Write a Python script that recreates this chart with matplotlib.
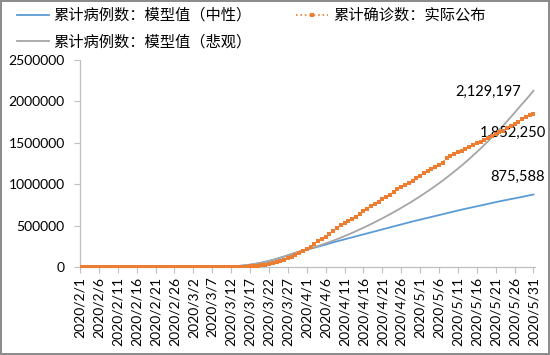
import matplotlib
matplotlib.use("Agg")
import matplotlib.pyplot as plt
import numpy as np
import datetime as dt

plt.rcParams['font.family'] = ['Lato', 'Noto Sans CJK SC', 'DejaVu Sans']

# ---------------- data ----------------
start = dt.date(2020, 2, 1)
dates = [start + dt.timedelta(days=i) for i in range(121)]
date_labels = [f"{d.year}/{d.month}/{d.day}" for d in dates]

actual = [
    8, 8, 11, 11, 12, 12, 12, 12, 12, 12,
    13, 13, 14, 15, 15, 15, 15, 15, 15, 15,
    35, 35, 35, 53, 53, 59, 60, 62, 70, 76,
    101, 122, 153, 221, 319, 435, 541, 704, 994, 1301,
    1697, 2247, 2943, 3680, 4663, 6411, 9197, 13779, 19367, 24192,
    33592, 43781, 54856, 68211, 85435, 104126, 124683, 143432, 164653, 189600,
    216722, 245540, 278458, 312245, 337072, 368196, 398809, 432132, 466299, 501560,
    530000, 557571, 582594, 609516, 639664, 671331, 702164, 735086, 759786, 787960,
    825041, 842624, 869170, 905358, 938154, 965785, 988197, 1012582, 1039909, 1069424,
    1103461, 1132539, 1158040, 1180375, 1204351, 1228603, 1257023, 1320000, 1345000, 1366000,
    1385000, 1405000, 1425000, 1447000, 1470000, 1492000, 1513000, 1535000, 1556000, 1578000,
    1601000, 1625000, 1648000, 1675000, 1701000, 1728000, 1755000, 1782000, 1808000, 1830000,
    1852250,
]

model_neutral = [
    0, 0, 0, 0, 0, 0, 0, 0, 0, 0,
    10, 10, 20, 20, 30, 30, 40, 50, 60, 70,
    90, 110, 130, 160, 190, 230, 280, 340, 410, 500,
    600, 700, 800, 900, 1000, 1500, 2000, 3000, 4000, 5500,
    7500, 10000, 13000, 17000, 22000, 28000, 35000, 43000, 52000, 62000,
    73000, 85000, 98000, 112000, 126000, 141000, 156000, 171000, 185000, 197000,
    209000, 221000, 233000, 245000, 258000, 271000, 284000, 297000, 310000, 322000,
    334000, 346000, 358000, 370000, 382000, 394000, 406000, 418000, 430000, 442000,
    454000, 466000, 478000, 490000, 502000, 514000, 526000, 538000, 550000, 561000,
    572000, 583000, 594000, 605000, 616000, 627000, 638000, 649000, 660000, 671000,
    682000, 693000, 703000, 713000, 723000, 733000, 743000, 753000, 763000, 773000,
    783000, 793000, 802000, 811000, 820000, 829000, 838000, 847000, 857000, 866000,
    875588,
]

model_pessimistic = [
    0, 0, 0, 0, 0, 0, 0, 0, 0, 0,
    10, 10, 20, 20, 30, 30, 40, 50, 60, 70,
    90, 110, 130, 160, 190, 230, 280, 340, 410, 500,
    600, 700, 800, 900, 1000, 1500, 2000, 3000, 4000, 5500,
    7500, 10000, 13000, 17000, 22000, 28000, 35000, 43000, 52000, 62000,
    73000, 85000, 98000, 112000, 126000, 141000, 156000, 171000, 186000, 199000,
    212000, 225000, 239000, 254000, 269000, 285000, 301000, 318000, 336000, 354000,
    373000, 392000, 412000, 432000, 453000, 474000, 496000, 518000, 541000, 564000,
    588000, 612000, 637000, 662000, 688000, 714000, 741000, 768000, 796000, 825000,
    854000, 884000, 915000, 946000, 978000, 1011000, 1045000, 1080000, 1115000, 1151000,
    1188000, 1226000, 1265000, 1305000, 1346000, 1388000, 1431000, 1475000, 1520000, 1566000,
    1613000, 1661000, 1710000, 1760000, 1811000, 1863000, 1916000, 1970000, 2020000, 2073000,
    2129197,
]

labels = ["累计病例数：模型值（中性）", "累计病例数：模型值（悲观）", "累计确诊数：实际公布"]
yticks = [0, 500000, 1000000, 1500000, 2000000, 2500000]

# ---------------- plot ----------------
W, H = 550, 355
fig = plt.figure(figsize=(W / 100, H / 100), dpi=100)
fig.patch.set_facecolor('white')
fig.patch.set_edgecolor('#8c8c8c')
fig.patch.set_linewidth(1.5)

ax = fig.add_axes([80 / W, 1 - 267 / H, (535 - 80) / W, (267 - 60) / H])
x = np.arange(len(dates))

l1, = ax.plot(x, model_neutral, color='#5B9BD5', lw=1.3, zorder=3)
l2, = ax.plot(x, model_pessimistic, color='#A5A5A5', lw=1.3, zorder=3)
l3, = ax.plot(x, actual, color='#ED7D31', lw=1.2, ls=':', marker='s', markersize=3.0,
              markeredgewidth=0, zorder=4)

ax.set_xlim(0, 120.4)
ax.set_ylim(0, 2500000)
ax.set_yticks(yticks)
ax.set_yticklabels([str(v) for v in yticks])
ax.set_xticks(x[::5])
ax.set_xticklabels(date_labels[::5], rotation=90)

for s in ['top', 'right']:
    ax.spines[s].set_visible(False)
for s in ['left', 'bottom']:
    ax.spines[s].set_color('#BFBFBF')
    ax.spines[s].set_linewidth(0.9)
ax.tick_params(axis='both', colors='#BFBFBF', labelcolor='black', labelsize=10, length=4, width=0.8)
ax.tick_params(axis='y', pad=7)
ax.tick_params(axis='x', pad=3)

# end labels
ax.annotate("2,129,197", (x[-1], model_pessimistic[-1]), xytext=(-45, -1),
            textcoords='offset pixels', ha='center', va='center', fontsize=10.5,
            annotation_clip=False)
ax.annotate("1,852,250", (x[-1], actual[-1]), xytext=(-21, -19),
            textcoords='offset pixels', ha='center', va='center', fontsize=10.5,
            annotation_clip=False)
ax.annotate("875,588", (x[-1], model_neutral[-1]), xytext=(-16, 18),
            textcoords='offset pixels', ha='center', va='center', fontsize=10.5,
            annotation_clip=False)

leg = fig.legend([l1, l2, l3], labels, ncol=2, loc='upper left',
                 bbox_to_anchor=(17 / W, 1 - 7 / H), frameon=False,
                 prop={'family': ['Noto Sans CJK SC'], 'size': 11},
                 handlelength=2.1, handletextpad=0.3, columnspacing=2.9,
                 labelspacing=0.62, borderpad=0, borderaxespad=0)

fig.savefig('out.png', dpi=100, facecolor=fig.get_facecolor(), edgecolor=fig.get_edgecolor())
